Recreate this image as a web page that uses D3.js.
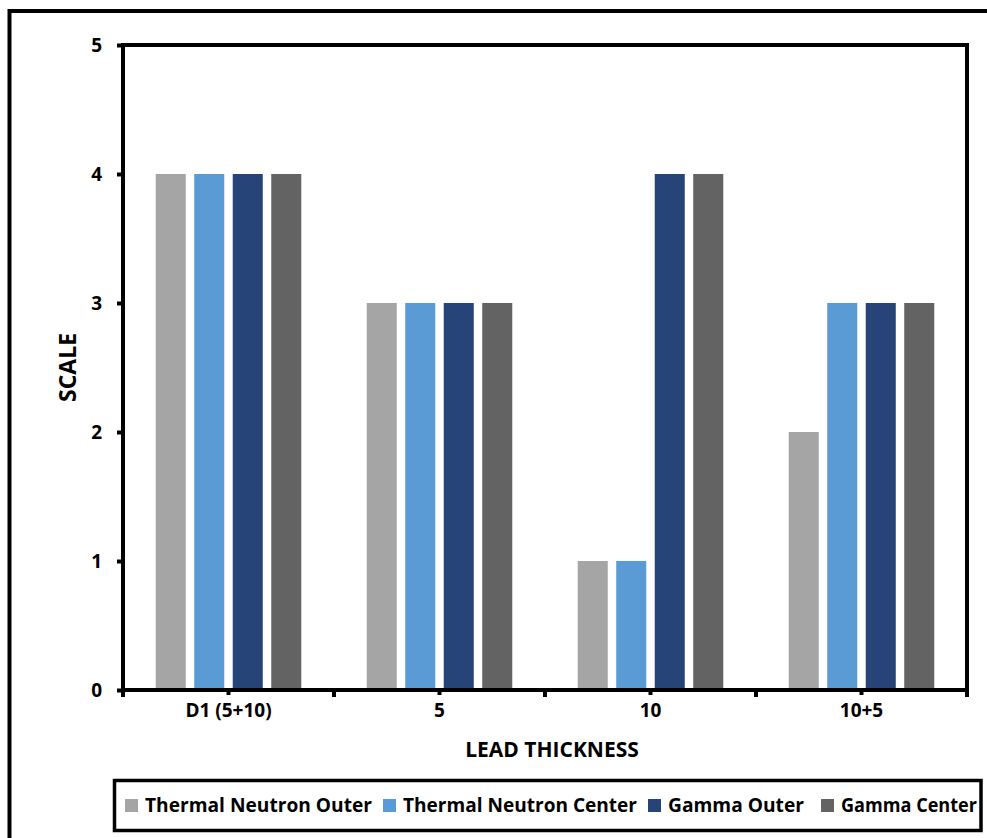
<!DOCTYPE html>
<html><head><meta charset="utf-8">
<script src="https://cdn.jsdelivr.net/npm/d3@7"></script>
<style>body{margin:0;background:#fff}text{font-family:"Open Sans",sans-serif;font-weight:bold;fill:#000}</style>
</head><body>
<svg id="c" width="987" height="838"></svg>
<script>
const categories = ["D1 (5+10)", "5", "10", "10+5"];
const seriesNames = ["Thermal Neutron Outer", "Thermal Neutron Center", "Gamma Outer", "Gamma Center"];
const thermalNeutronOuter = [4, 3, 1, 2];
const thermalNeutronCenter = [4, 3, 1, 3];
const gammaOuter = [4, 3, 4, 3];
const gammaCenter = [4, 3, 4, 3];
const seriesColors = ["#A5A5A5", "#5B9BD5", "#264478", "#636363"];
const yTicks = [0, 1, 2, 3, 4, 5];
const seriesValues = [thermalNeutronOuter, thermalNeutronCenter, gammaOuter, gammaCenter];

const svg = d3.select("#c");
// outer border
svg.append("rect").attr("x", 9.5).attr("y", 11).attr("width", 990).attr("height", 840)
  .attr("fill", "none").attr("stroke", "#000").attr("stroke-width", 4);

const L = 123, R = 967, T = 45, B = 690;
const x0 = d3.scaleBand().domain(categories).range([L, R]).paddingInner(0).paddingOuter(0);
const x1 = d3.scaleBand().domain(seriesNames).range([0, x0.bandwidth()]).paddingInner(0.22).paddingOuter(0.85);
const y = d3.scaleLinear().domain([0, 5]).range([B, T]);

const data = categories.map((c, i) => seriesNames.map((s, j) => ({c, s, v: seriesValues[j][i], color: seriesColors[j]})));
svg.append("g").selectAll("g").data(data).join("g")
  .attr("transform", (d, i) => `translate(${x0(categories[i])},0)`)
  .selectAll("rect").data(d => d).join("rect")
  .attr("x", d => x1(d.s)).attr("width", x1.bandwidth())
  .attr("y", d => y(d.v)).attr("height", d => B - y(d.v))
  .attr("fill", d => d.color);

// plot frame
svg.append("rect").attr("x", L).attr("y", T).attr("width", R - L).attr("height", B - T)
  .attr("fill", "none").attr("stroke", "#000").attr("stroke-width", 4);

// y axis
const yAxis = d3.axisLeft(y).tickValues(yTicks).tickSize(6).tickPadding(15).tickFormat(d3.format("d"));
const gy = svg.append("g").attr("transform", `translate(${L},0)`).call(yAxis);
gy.attr("font-size", null).attr("font-family", null);
gy.select(".domain").remove();
gy.selectAll(".tick line").attr("stroke", "#000").attr("stroke-width", 4);
gy.selectAll(".tick text").style("font-size", "19px").attr("fill", "#000");

// x axis: boundary ticks
const boundaries = categories.map(c => x0(c)).concat([R]);
svg.append("g").selectAll("line").data(boundaries).join("line")
  .attr("x1", d => d).attr("x2", d => d).attr("y1", B).attr("y2", B + 7)
  .attr("stroke", "#000").attr("stroke-width", 4);
const xAxis = d3.axisBottom(x0).tickSize(5).tickPadding(9);
const gx = svg.append("g").attr("transform", `translate(0,${B})`).call(xAxis);
gx.attr("font-size", null).attr("font-family", null);
gx.select(".domain").remove();
gx.selectAll(".tick line").attr("stroke", "#000").attr("stroke-width", 4);
gx.selectAll(".tick text").style("font-size", "19px").attr("fill", "#000");

// axis titles
svg.append("text").attr("x", 552).attr("y", 757).attr("text-anchor", "middle").style("font-size", "21px").text("LEAD THICKNESS");
svg.append("text").attr("transform", "translate(76,367.5) rotate(-90)").attr("text-anchor", "middle").style("font-size", "23px").text("SCALE");

// legend
svg.append("rect").attr("x", 114.5).attr("y", 780.5).attr("width", 866.5).attr("height", 50)
  .attr("fill", "#fff").attr("stroke", "#000").attr("stroke-width", 3.5);
const legX = [125, 383, 648, 821];
const legW = [227, 234, 136, 136];
const lg = svg.append("g").selectAll("g").data(seriesNames).join("g")
  .attr("transform", (d, i) => `translate(${legX[i]},805.5)`);
lg.append("rect").attr("x", 0).attr("y", -6.5).attr("width", 13).attr("height", 13).attr("fill", (d, i) => seriesColors[i]);
lg.append("text").attr("x", 20).attr("y", 6.5).style("font-size", "19px")
  .attr("textLength", (d, i) => legW[i]).attr("lengthAdjust", "spacingAndGlyphs").text(d => d);
</script>
</body></html>
